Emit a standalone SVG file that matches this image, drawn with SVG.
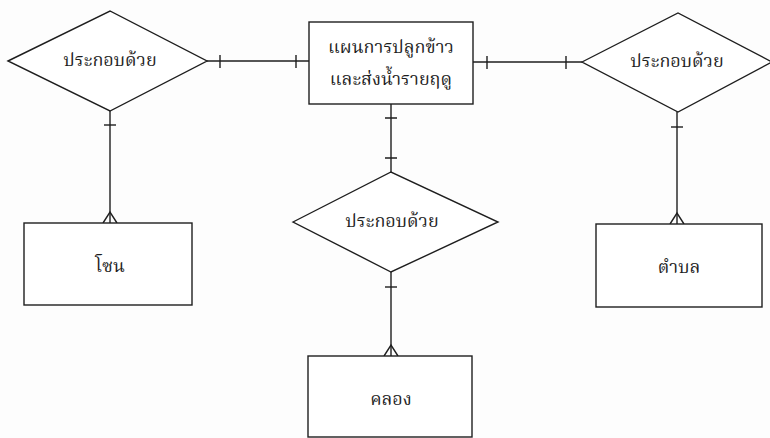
<svg xmlns="http://www.w3.org/2000/svg" width="770" height="438" viewBox="0 0 770 438">
  <style>
    .shape { fill: #fff; stroke: #1e1e1e; stroke-width: 1.4; }
    .line { fill: none; stroke: #1e1e1e; stroke-width: 1.4; }
    .label { font-family: "Noto Serif Thai", "Noto Sans Thai", "Liberation Serif", "DejaVu Serif", serif; font-size: 18px; fill: #1e1e1e; text-anchor: middle; dominant-baseline: central; }
  </style>
  <rect width="770" height="438" fill="#fdfdfd"/>

  <!-- connectors -->
  <g id="connectors" class="line">
    <!-- left relationship to plan -->
    <path d="M207 61 H309"/>
    <path d="M220 55 V68 M296 55 V68"/>
    <!-- plan to right relationship -->
    <path d="M473 62 H582"/>
    <path d="M487 56 V69 M566 56 V69"/>
    <!-- plan to middle relationship -->
    <path d="M391 104 V172"/>
    <path d="M385 118 H397 M385 158 H397"/>
    <!-- left relationship to zone -->
    <path d="M110 111 V223"/>
    <path d="M104 125 H116"/>
    <path d="M103 223 L110 212 L117 223"/>
    <!-- middle relationship to canal -->
    <path d="M391 272 V356"/>
    <path d="M385 287 H397"/>
    <path d="M384 356 L391 345 L398 356"/>
    <!-- right relationship to subdistrict -->
    <path d="M677 112 V224"/>
    <path d="M671 127 H683"/>
    <path d="M670 224 L677 213 L684 224"/>
  </g>

  <g id="rel-left">
    <polygon class="shape" points="8,61 110,11 207,61 110,111"/>
    <text class="label" x="110" y="61">ประกอบด้วย</text>
  </g>

  <g id="plan">
    <rect class="shape" x="309" y="22" width="164" height="82"/>
    <text class="label" x="391" y="48">แผนการปลูกข้าว</text>
    <text class="label" x="391" y="80">และส่งน้ำรายฤดู</text>
  </g>

  <g id="rel-right">
    <polygon class="shape" points="582,62 678,13 772,62 678,112"/>
    <text class="label" x="677" y="62">ประกอบด้วย</text>
  </g>

  <g id="rel-middle">
    <polygon class="shape" points="293,222 391,172 498,222 391,272"/>
    <text class="label" x="392" y="222">ประกอบด้วย</text>
  </g>

  <g id="zone">
    <rect class="shape" x="24" y="223" width="168" height="82"/>
    <text class="label" x="110" y="267">โซน</text>
  </g>

  <g id="subdistrict">
    <rect class="shape" x="596" y="224" width="166" height="83"/>
    <text class="label" x="679" y="268">ตำบล</text>
  </g>

  <g id="canal">
    <rect class="shape" x="308" y="356" width="164" height="81"/>
    <text class="label" x="391" y="400">คลอง</text>
  </g>
</svg>
